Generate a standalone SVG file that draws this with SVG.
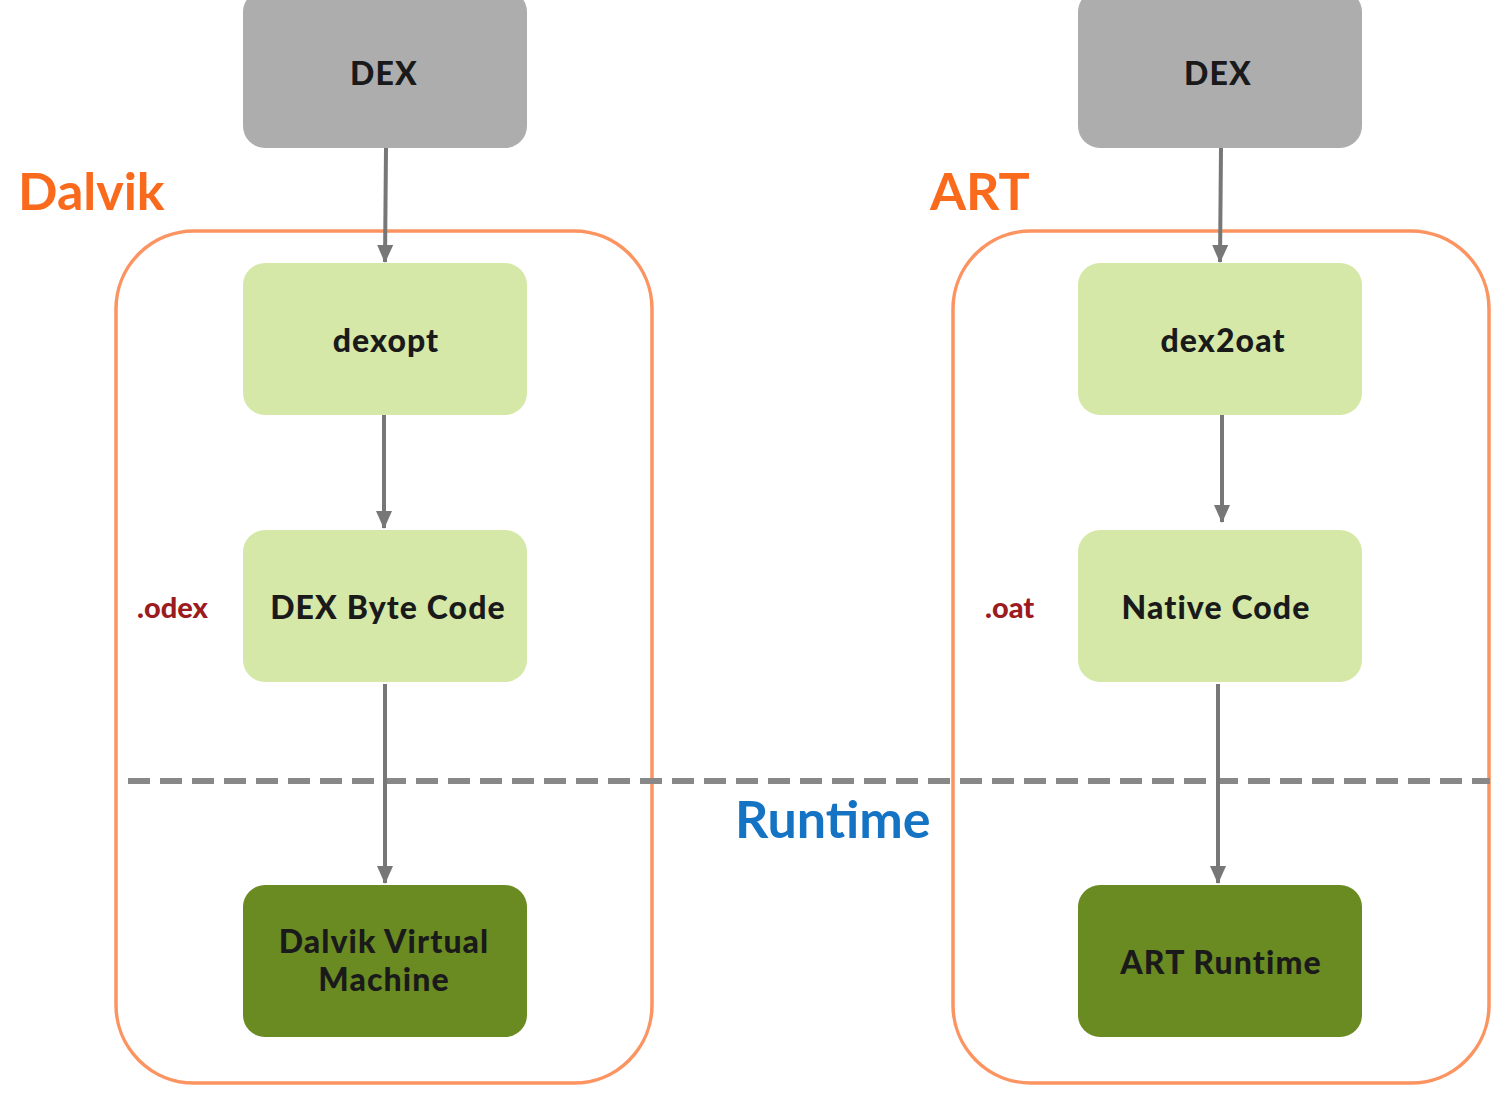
<svg xmlns="http://www.w3.org/2000/svg" width="1510" height="1100" viewBox="0 0 1510 1100">
<style>
.dex{fill:#adadad}
.light{fill:#d5e8a8}
.dark{fill:#6a8a22}
.frame{fill:none;stroke:#fb9461;stroke-width:3.5}
.t{font-family:Lato,"Liberation Sans",sans-serif;font-weight:900;fill:#1a1a1a;text-anchor:middle;font-size:32px;letter-spacing:1.1px}
.conn{stroke:#777;stroke-width:4;fill:none;marker-end:url(#ah)}
.title{font-family:Lato,"Liberation Sans",sans-serif;font-weight:bold;font-size:52px}
.ext{font-family:Lato,"Liberation Sans",sans-serif;font-weight:900;font-size:29px;fill:#9b1b1f}
</style>
<defs>
<marker id="ah" viewBox="0 0 18 16" refX="17" refY="8" markerWidth="18" markerHeight="16" markerUnits="userSpaceOnUse" orient="auto">
<path d="M0,0 L18,8 L0,16 Z" fill="#777"/>
</marker>
</defs>
<rect width="1510" height="1100" fill="#fff"/>
<g id="frames">
<rect class="frame" x="116" y="231" width="536" height="852" rx="78"/>
<rect class="frame" x="953" y="231" width="536" height="852" rx="78"/>
</g>
<line x1="128" y1="781" x2="1490" y2="781" stroke="#888" stroke-width="6" stroke-dasharray="22 10"/>
<text class="title" x="18" y="210" fill="#fa6a1c">Dalvik</text>
<text class="title" x="930" y="210" fill="#fa6a1c">ART</text>
<text class="title" x="735" y="838" fill="#1573c4" font-size="51">Runtime</text>
<text class="ext" x="137" y="618">.odex</text>
<text class="ext" x="985" y="618">.oat</text>
<g id="connectors">
<line class="conn" x1="386" y1="148" x2="385" y2="262"/>
<line class="conn" x1="384" y1="415" x2="384" y2="528"/>
<line class="conn" x1="385" y1="684" x2="385" y2="883"/>
<line class="conn" x1="1221" y1="148" x2="1220" y2="262"/>
<line class="conn" x1="1222" y1="410" x2="1222" y2="522"/>
<line class="conn" x1="1218" y1="684" x2="1218" y2="883"/>
</g>
<g id="dex-left"><rect class="dex" x="243" y="-10" width="284" height="158" rx="22"/><text class="t" x="384" y="85">DEX</text></g>
<g id="dexopt"><rect class="light" x="243" y="263" width="284" height="152" rx="22"/><text class="t" x="386" y="352">dexopt</text></g>
<g id="dex-byte-code"><rect class="light" x="243" y="530" width="284" height="152" rx="22"/><text class="t" x="388" y="619">DEX Byte Code</text></g>
<g id="dalvik-vm"><rect class="dark" x="243" y="885" width="284" height="152" rx="22"/><text class="t" x="384" y="953">Dalvik Virtual</text><text class="t" x="384" y="991">Machine</text></g>
<g id="dex-right"><rect class="dex" x="1078" y="-10" width="284" height="158" rx="22"/><text class="t" x="1218" y="85">DEX</text></g>
<g id="dex2oat"><rect class="light" x="1078" y="263" width="284" height="152" rx="22"/><text class="t" x="1223" y="352">dex2oat</text></g>
<g id="native-code"><rect class="light" x="1078" y="530" width="284" height="152" rx="22"/><text class="t" x="1216" y="619">Native Code</text></g>
<g id="art-runtime"><rect class="dark" x="1078" y="885" width="284" height="152" rx="22"/><text class="t" x="1221" y="974">ART Runtime</text></g>
</svg>
